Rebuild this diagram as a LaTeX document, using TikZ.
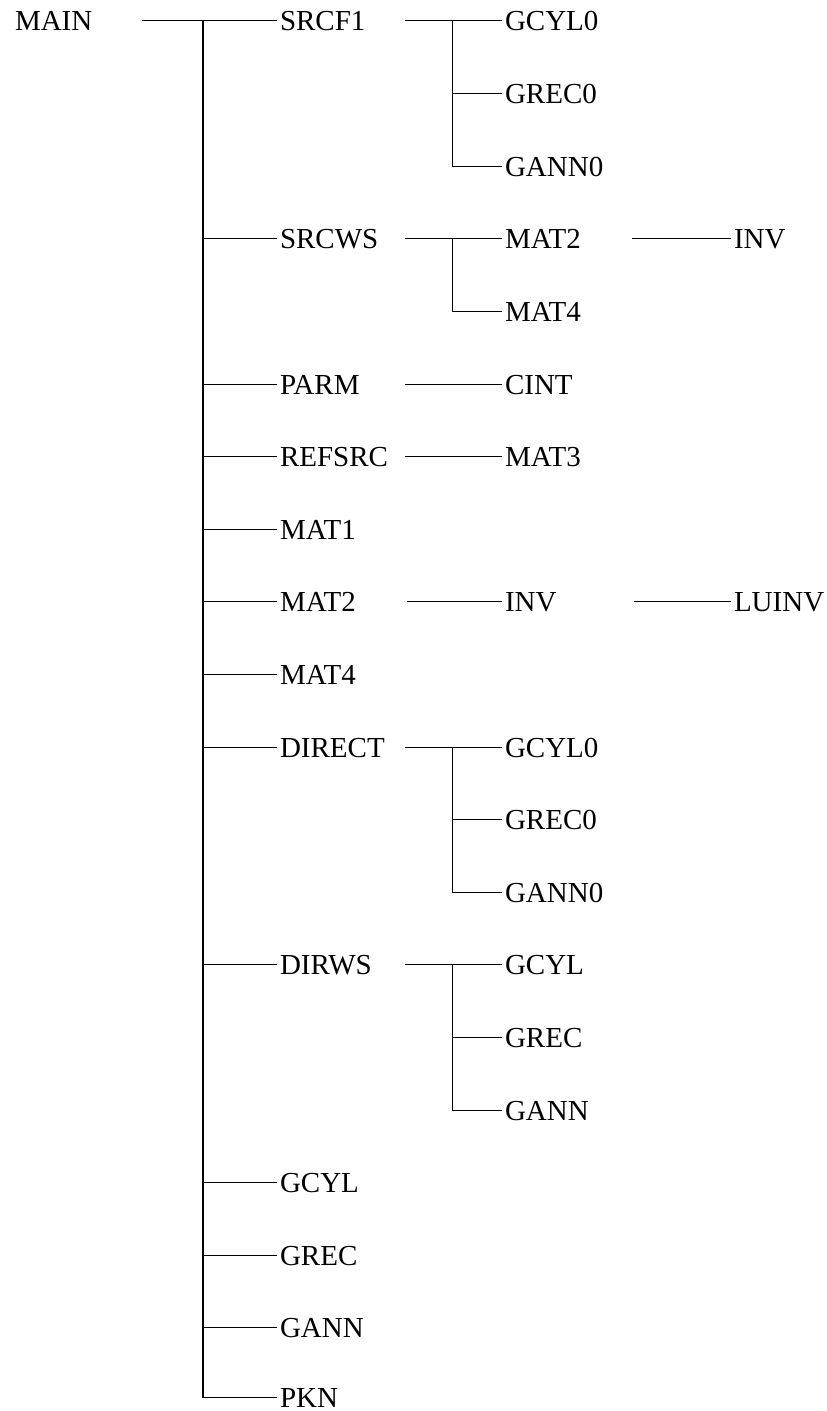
\documentclass[tikz,border=0pt]{standalone}
\usepackage{fontspec}
\setmainfont{Liberation Serif}
\begin{document}
\begin{tikzpicture}[x=1bp,y=-1bp,
  lbl/.style={anchor=west,inner sep=0pt,outer sep=3bp,text height=19.2bp,text depth=0pt,
              font=\fontsize{29bp}{29bp}\selectfont},
  wire/.style={line width=1.8bp},
  trunk/.style={line width=2.3bp}]
\useasboundingbox (0,0) rectangle (826,1411);

% row positions
\def\rA{20.5}   \def\rB{93.5}   \def\rC{166.5}  \def\rD{238.5}
\def\rE{311.5}  \def\rF{384.5}  \def\rG{456.5}  \def\rH{529.5}
\def\rI{601.5}  \def\rJ{674.5}  \def\rK{747.5}  \def\rL{819.5}
\def\rM{892.5}  \def\rN{964.5}  \def\rO{1037.5} \def\rP{1110.5}
\def\rQ{1182.5} \def\rR{1255.5} \def\rS{1327.5} \def\rT{1397.5}

% column positions
\def\cA{12} \def\cB{277} \def\cC{502} \def\cD{731}

% root
\node[lbl] (main) at (\cA,\rA) {MAIN};

% first level
\node[lbl] (a1)  at (\cB,\rA) {SRCF1};
\node[lbl] (a2)  at (\cB,\rD) {SRCWS};
\node[lbl] (a3)  at (\cB,\rF) {PARM};
\node[lbl] (a4)  at (\cB,\rG) {REFSRC};
\node[lbl] (a5)  at (\cB,\rH) {MAT1};
\node[lbl] (a6)  at (\cB,\rI) {MAT2};
\node[lbl] (a7)  at (\cB,\rJ) {MAT4};
\node[lbl] (a8)  at (\cB,\rK) {DIRECT};
\node[lbl] (a9)  at (\cB,\rN) {DIRWS};
\node[lbl] (a10) at (\cB,\rQ) {GCYL};
\node[lbl] (a11) at (\cB,\rR) {GREC};
\node[lbl] (a12) at (\cB,\rS) {GANN};
\node[lbl] (a13) at (\cB,\rT) {PKN};

% second level
\node[lbl] (b1)  at (\cC,\rA) {GCYL0};
\node[lbl] (b2)  at (\cC,\rB) {GREC0};
\node[lbl] (b3)  at (\cC,\rC) {GANN0};
\node[lbl] (b4)  at (\cC,\rD) {MAT2};
\node[lbl] (b5)  at (\cC,\rE) {MAT4};
\node[lbl] (b6)  at (\cC,\rF) {CINT};
\node[lbl] (b7)  at (\cC,\rG) {MAT3};
\node[lbl] (b8)  at (\cC,\rI) {INV};
\node[lbl] (b9)  at (\cC,\rK) {GCYL0};
\node[lbl] (b10) at (\cC,\rL) {GREC0};
\node[lbl] (b11) at (\cC,\rM) {GANN0};
\node[lbl] (b12) at (\cC,\rN) {GCYL};
\node[lbl] (b13) at (\cC,\rO) {GREC};
\node[lbl] (b14) at (\cC,\rP) {GANN};

% third level
\node[lbl] (c1) at (\cD,\rD) {INV};
\node[lbl] (c2) at (\cD,\rI) {LUINV};

% connector anchors
\coordinate (m0) at (142,\rA);
\coordinate (t0) at (203,\rA);
\coordinate (t1) at (203,\rT);
\coordinate (s1) at (405,\rA);  \coordinate (j1) at (452.5,\rA);
\coordinate (s2) at (405,\rD);  \coordinate (j2) at (452.5,\rD);
\coordinate (s3) at (405,\rF);
\coordinate (s4) at (405,\rG);
\coordinate (s6) at (407,\rI);
\coordinate (s8) at (405,\rK);  \coordinate (j8) at (452.5,\rK);
\coordinate (s9) at (405,\rN);  \coordinate (j9) at (452.5,\rN);
\coordinate (u2) at (632,\rD);
\coordinate (u6) at (634,\rI);

% trunk
\draw[trunk] (t0) -- (t1);
\draw[wire] (m0) -- (a1);
\foreach \n in {a2,a3,a4,a5,a6,a7,a8,a9,a10,a11,a12,a13}
  \draw[wire] (\n -| t0) -- (\n);

% SRCF1 group
\draw[wire] (s1) -- (b1);
\draw[wire] (j1) |- (b3);
\draw[wire] (b2 -| j1) -- (b2);

% SRCWS group
\draw[wire] (s2) -- (b4);
\draw[wire] (j2) |- (b5);
\draw[wire] (u2) -- (c1);

% single children
\draw[wire] (s3) -- (b6);
\draw[wire] (s4) -- (b7);
\draw[wire] (s6) -- (b8);
\draw[wire] (u6) -- (c2);

% DIRECT group
\draw[wire] (s8) -- (b9);
\draw[wire] (j8) |- (b11);
\draw[wire] (b10 -| j8) -- (b10);

% DIRWS group
\draw[wire] (s9) -- (b12);
\draw[wire] (j9) |- (b14);
\draw[wire] (b13 -| j9) -- (b13);
\end{tikzpicture}
\end{document}
